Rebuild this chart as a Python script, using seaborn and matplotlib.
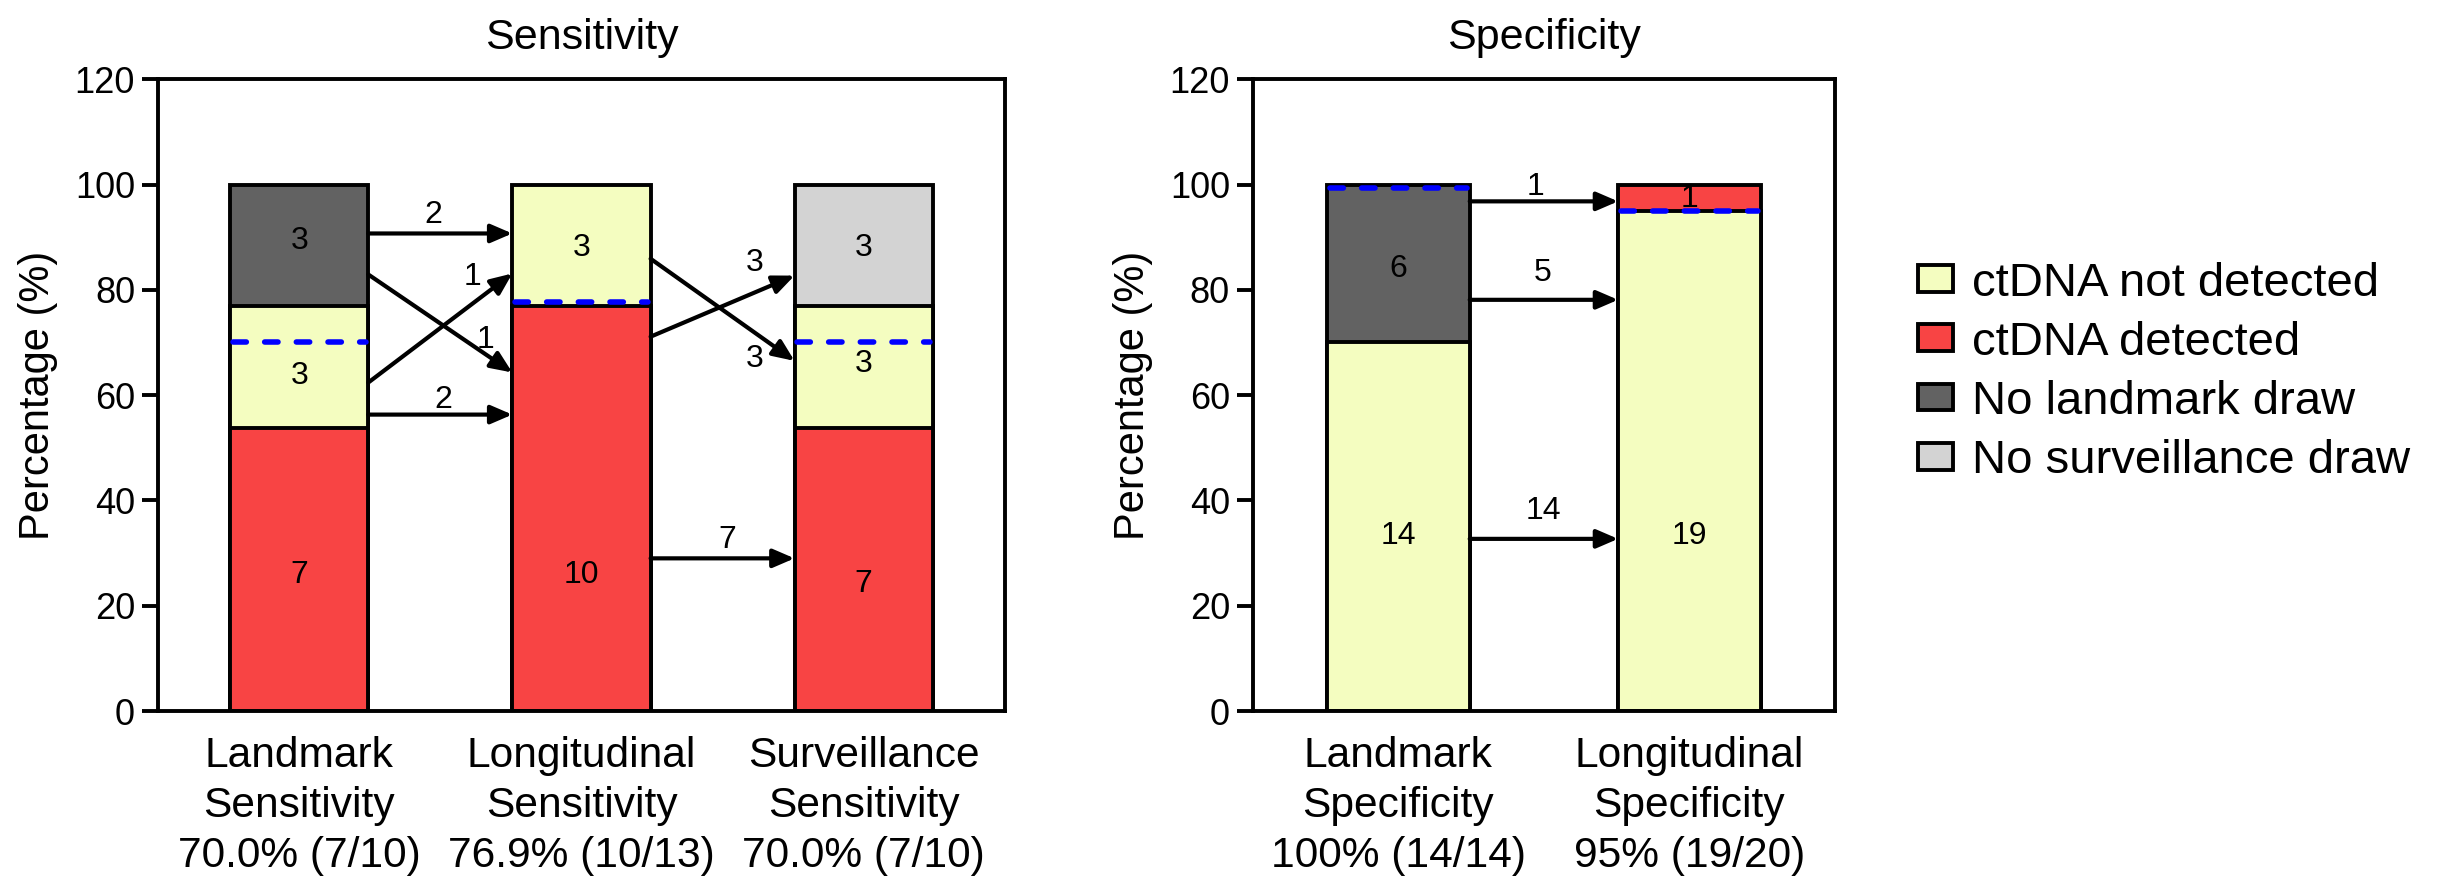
import numpy as np
import pandas as pd
import matplotlib
matplotlib.use("Agg")
import matplotlib.pyplot as plt
import seaborn as sns
from matplotlib.patches import Patch

# ---------------- data ----------------
state_names = ["ctDNA not detected", "ctDNA detected", "No landmark draw", "No surveillance draw"]
state_colors = ["#F4FDC0", "#F84444", "#626262", "#D3D3D3"]

# Sensitivity panel
sens_categories = ["Landmark\nSensitivity\n70.0% (7/10)",
                   "Longitudinal\nSensitivity\n76.9% (10/13)",
                   "Surveillance\nSensitivity\n70.0% (7/10)"]
sens_totals = [13, 13, 13]
sens_states = [["ctDNA detected", "ctDNA not detected", "No landmark draw"],
               ["ctDNA detected", "ctDNA not detected"],
               ["ctDNA detected", "ctDNA not detected", "No surveillance draw"]]
sens_counts = [[7, 3, 3], [10, 3], [7, 3, 3]]
sens_count_label_y = [[25.8, 63.7, 89.3], [25.8, 88.0], [24.2, 66.0, 88.0]]
sens_rate = [70.0, 77.7, 70.0]
sens_flow_from = [0, 0, 0, 0, 1, 1, 1]
sens_flow_y0 = [90.7, 82.9, 62.4, 56.3, 85.9, 71.1, 29.0]
sens_flow_y1 = [90.7, 64.3, 83.1, 56.3, 66.5, 82.7, 29.0]
sens_flow_n = [2, 1, 1, 2, 3, 3, 7]
sens_flow_label_x = [0.474, 0.659, 0.613, 0.51, 1.615, 1.615, 1.515]
sens_flow_label_y = [94.3, 70.5, 82.5, 59.0, 66.9, 85.0, 32.5]

# Specificity panel
spec_categories = ["Landmark\nSpecificity\n100% (14/14)",
                   "Longitudinal\nSpecificity\n95% (19/20)"]
spec_totals = [20, 20]
spec_states = [["ctDNA not detected", "No landmark draw"],
               ["ctDNA not detected", "ctDNA detected"]]
spec_counts = [[14, 6], [19, 1]]
spec_count_label_y = [[33.3, 84.0], [33.3, 97.3]]
spec_rate = [99.4, 95.0]
spec_flow_from = [0, 0, 0]
spec_flow_y0 = [96.8, 78.1, 32.7]
spec_flow_y1 = [96.8, 78.1, 32.7]
spec_flow_n = [1, 5, 14]
spec_flow_label_x = [0.47, 0.495, 0.5]
spec_flow_label_y = [99.6, 83.1, 38.0]

yticks = [0, 20, 40, 60, 80, 100, 120]

# ---------------- style ----------------
sns.set_theme(style="ticks")
plt.rcParams["font.family"] = ["Liberation Sans", "DejaVu Sans"]
plt.rcParams["axes.linewidth"] = 1.4
plt.rcParams["text.color"] = "black"
plt.rcParams["axes.labelcolor"] = "black"
plt.rcParams["xtick.color"] = "black"
plt.rcParams["ytick.color"] = "black"
palette = dict(zip(state_names, state_colors))

BAR_W = 0.49
LW = 1.4

fig = plt.figure(figsize=(12.2, 4.4), dpi=200)
ax1 = fig.add_axes([0.0648, 0.192, 0.347, 0.718])
ax2 = fig.add_axes([0.5135, 0.192, 0.2385, 0.718])


def draw_panel(ax, cats, states, counts, totals, label_y, rate,
               f_from, f_y0, f_y1, f_n, f_lx, f_ly, title):
    maxn = max(len(c) for c in counts)
    for j in range(maxn):
        heights, colors = [], []
        for s, c, t in zip(states, counts, totals):
            k = len(c) - j
            if k > 0:
                heights.append(sum(c[:k]) / t * 100.0)
                colors.append(palette[s[k - 1]])
            else:
                heights.append(np.nan)
                colors.append("white")
        df = pd.DataFrame({"cat": cats, "pct": heights})
        sns.barplot(data=df, x="cat", y="pct", hue="cat", order=cats,
                    hue_order=cats, palette=colors, width=BAR_W,
                    edgecolor="black", linewidth=LW, saturation=1,
                    legend=False, ax=ax, zorder=2)
    # counts inside bars
    for i, (c, ly) in enumerate(zip(counts, label_y)):
        for n, y in zip(c, ly):
            ax.text(i, y, str(n), ha="center", va="center", fontsize=11.5,
                    color="black", zorder=5)
    # rate dashed lines
    for i, r in enumerate(rate):
        ax.plot([i - BAR_W / 2 + 0.01, i + BAR_W / 2 - 0.01], [r, r],
                color="#0000FF", lw=2.0, linestyle=(0, (2.4, 3.3)),
                dash_capstyle="round", zorder=4)
    # flow arrows
    for fr, y0, y1, n, lx, ly in zip(f_from, f_y0, f_y1, f_n, f_lx, f_ly):
        x0 = fr + BAR_W / 2
        x1 = fr + 1 - BAR_W / 2
        ax.annotate("", xy=(x1, y1), xytext=(x0, y0),
                    arrowprops=dict(arrowstyle="-|>,head_length=0.65,head_width=0.28",
                                    mutation_scale=10, lw=1.5, color="black",
                                    shrinkA=0, shrinkB=0),
                    zorder=6)
        ax.text(lx, ly, str(n), ha="center", va="center", fontsize=11.5,
                color="black", zorder=6)
    ax.set_xlim(-0.5, len(cats) - 0.5)
    ax.set_ylim(0, 120)
    ax.set_yticks(yticks)
    ax.set_xlabel("")
    ax.set_ylabel("Percentage (%)", fontsize=15, labelpad=6)
    ax.set_title(title, fontsize=15.5, pad=11)
    ax.tick_params(axis="y", length=5.8, width=1.4, labelsize=13, pad=2.5,
                   color="black", labelcolor="black")
    ax.tick_params(axis="x", length=0, labelsize=15.3, pad=9, labelcolor="black")
    for lab in ax.get_xticklabels():
        lab.set_linespacing(1.32)
    for sp in ax.spines.values():
        sp.set_visible(True)
        sp.set_color("black")
        sp.set_linewidth(1.4)


draw_panel(ax1, sens_categories, sens_states, sens_counts, sens_totals,
           sens_count_label_y, sens_rate, sens_flow_from, sens_flow_y0,
           sens_flow_y1, sens_flow_n, sens_flow_label_x, sens_flow_label_y,
           "Sensitivity")
draw_panel(ax2, spec_categories, spec_states, spec_counts, spec_totals,
           spec_count_label_y, spec_rate, spec_flow_from, spec_flow_y0,
           spec_flow_y1, spec_flow_n, spec_flow_label_x, spec_flow_label_y,
           "Specificity")

handles = [Patch(facecolor=c, edgecolor="black", linewidth=1.4, label=n)
           for n, c in zip(state_names, state_colors)]
fig.legend(handles=handles, loc="center left", bbox_to_anchor=(0.786, 0.577),
           frameon=False, fontsize=17, handlelength=0.75, handleheight=0.5,
           handletextpad=0.4, labelspacing=0.32, borderpad=0, borderaxespad=0)

fig.savefig("out.png", dpi=200)
